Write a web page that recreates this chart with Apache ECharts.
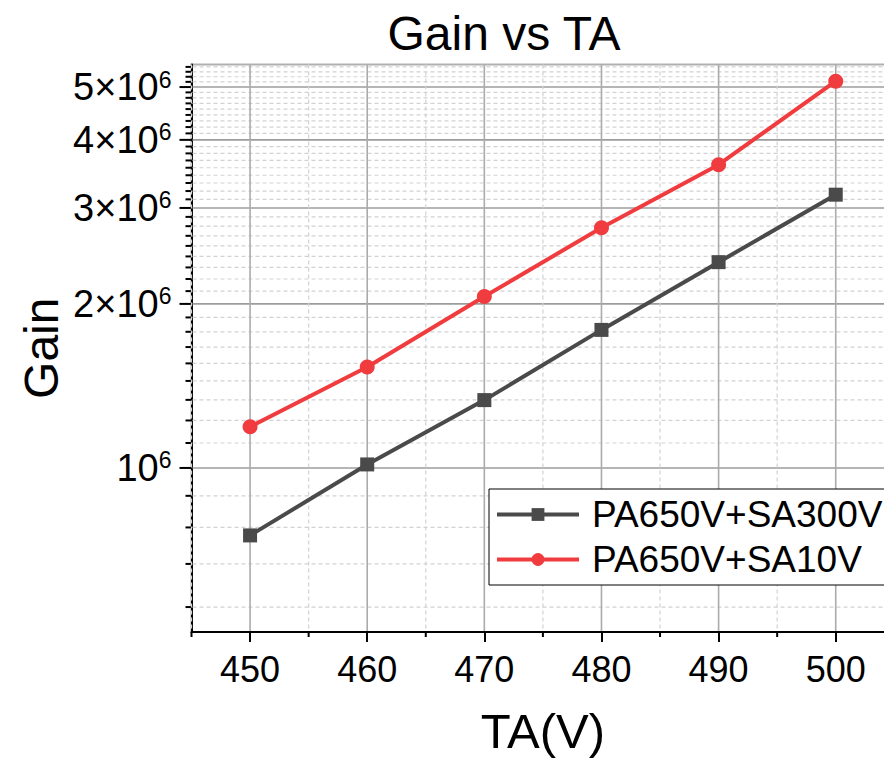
<!DOCTYPE html>
<html><head><meta charset="utf-8">
<script src="https://cdn.jsdelivr.net/npm/echarts@6/dist/echarts.min.js"></script>
<style>html,body{margin:0;padding:0;background:#fff}#c{width:884px;height:759px}</style>
</head><body><div id="c"></div>
<script>
// ---- data ----
const taVoltages = [450, 460, 470, 480, 490, 500];
const gainSA300 = [7.52e5, 1.015e6, 1.332e6, 1.792e6, 2.386e6, 3.173e6];
const gainSA10 = [1.190e6, 1.532e6, 2.063e6, 2.760e6, 3.602e6, 5.126e6];
const seriesNames = ['PA650V+SA300V', 'PA650V+SA10V'];
const titleText = 'Gain vs TA';
const xName = 'TA(V)';
const yName = 'Gain';
const xMajorTicks = [450, 460, 470, 480, 490, 500];
const xMinorTicks = [445, 455, 465, 475, 485, 495, 505];
const yMajorTicks = [1e6, 2e6, 3e6, 4e6, 5e6];
const yTickMantissas = ['', '2×', '3×', '4×', '5×'];
const yTickExponent = '6';

// ---- setup ----
const FONT = "'Liberation Sans', Arial, Helvetica, sans-serif";
const NARROW = "'Liberation Sans Narrow', 'Arial Narrow', " + FONT;
const xMin = 445, xMax = 505, yMin = 5e5, yMax = 5.5e6;
const COLORS = ['#4a4a4a', '#f03c3e'];
const LINE_W = 4;

// Origin style log axis: major step 1e6 with 8 minor ticks between majors
const yMinorTicks = [];
for (let k = 0; k <= 5; k++) {
  for (let j = 1; j <= 8; j++) {
    const v = k * 1e6 + j * 1e6 / 9;
    if (v > yMin && v < yMax) yMinorTicks.push(v);
  }
}
const yGridData = yMajorTicks.map((v, i) => [xMin, v, 1, i])
  .concat(yMinorTicks.map(v => [xMin, v, 0, -1]));
const xGridData = xMajorTicks.map(v => [v, yMin, 1])
  .concat(xMinorTicks.map(v => [v, yMin, 0]));

function renderYGrid(params, api) {
  const cs = params.coordSys;
  const y = api.coord([api.value(0), api.value(1)])[1];
  const major = api.value(2) === 1;
  const children = [
    { type: 'line', shape: { x1: cs.x + 1, y1: y, x2: cs.x + cs.width, y2: y },
      style: { stroke: major ? '#9c9c9c' : '#d2d2d2', lineWidth: major ? 1.6 : 1.2, lineDash: major ? null : [4, 3] } },
    { type: 'line', shape: { x1: cs.x - (major ? 12 : 6), y1: y, x2: cs.x, y2: y },
      style: { stroke: '#000', lineWidth: 2 } }
  ];
  if (major) {
    const idx = api.value(3);
    children.push({
      type: 'text',
      style: {
        x: cs.x - 20, y: y,
        text: '{m|' + yTickMantissas[idx] + '10}{s|' + yTickExponent + '}',
        align: 'right', verticalAlign: 'middle',
        textAlign: 'right', textVerticalAlign: 'middle',
        fill: '#000',
        rich: {
          m: { fontSize: 38, fontFamily: FONT, fill: '#000', color: '#000' },
          s: { fontSize: 23, fontFamily: FONT, fill: '#000', color: '#000', verticalAlign: 'top' }
        }
      }
    });
  }
  return { type: 'group', children };
}

function renderXGrid(params, api) {
  const cs = params.coordSys;
  const x = api.coord([api.value(0), api.value(1)])[0];
  const major = api.value(2) === 1;
  const children = [
    { type: 'line', shape: { x1: x, y1: cs.y, x2: x, y2: cs.y + cs.height - 1 },
      style: { stroke: major ? '#ababab' : '#d2d2d2', lineWidth: major ? 1.6 : 1.2, lineDash: major ? null : [4, 3] } }
  ];
  if (!major) {
    children.push({ type: 'line', shape: { x1: x, y1: cs.y + cs.height, x2: x, y2: cs.y + cs.height + 5 },
      style: { stroke: '#000', lineWidth: 2 } });
  }
  return { type: 'group', children };
}

const chart = echarts.init(document.getElementById('c'), null, { renderer: 'svg', width: 884, height: 759 });
chart.setOption({
  animation: false,
  backgroundColor: '#fff',
  title: {
    text: titleText, left: 504, top: 9, textAlign: 'center', padding: 0,
    textStyle: { fontSize: 48, fontWeight: 'normal', color: '#000', fontFamily: FONT }
  },
  grid: {
    left: 191.5, width: 702.8, top: 64.5, bottom: 127,
    containLabel: false, outerBoundsMode: 'none',
    show: true, borderColor: '#b0b0b0', borderWidth: 2, backgroundColor: 'transparent'
  },
  legend: {
    data: seriesNames, orient: 'vertical', left: 489, top: 489,
    itemWidth: 82, itemHeight: 16, itemGap: 8,
    padding: [7, 30, 7, 6],
    borderColor: '#000', borderWidth: 1, backgroundColor: '#fff',
    lineStyle: { width: LINE_W },
    textStyle: { fontSize: 37, color: '#000', fontFamily: FONT, padding: [0, 0, 0, 8] }
  },
  xAxis: {
    type: 'value', min: xMin, max: xMax,
    name: xName, nameLocation: 'middle', nameGap: 74,
    nameTextStyle: { fontSize: 49, color: '#000', fontFamily: FONT },
    axisLine: { show: true, onZero: false, lineStyle: { color: '#000', width: 2 } },
    axisTick: { show: true, customValues: xMajorTicks, length: 10, lineStyle: { color: '#000', width: 2 } },
    axisLabel: { show: true, customValues: xMajorTicks, margin: 19, fontSize: 36, color: '#000', fontFamily: NARROW },
    splitLine: { show: false }
  },
  yAxis: {
    type: 'log', logBase: 10, min: yMin, max: yMax,
    name: yName, nameLocation: 'middle', nameGap: 126,
    nameTextStyle: { fontSize: 48, color: '#000', fontFamily: FONT },
    axisLine: { show: true, onZero: false, lineStyle: { color: '#000', width: 2 } },
    axisTick: { show: false },
    axisLabel: { show: false },
    splitLine: { show: false },
    minorTick: { show: false },
    minorSplitLine: { show: false }
  },
  series: [
    { type: 'custom', name: 'ygrid', silent: true, z: 1, clip: false,
      renderItem: renderYGrid, data: yGridData, encode: { x: 0, y: 1 } },
    { type: 'custom', name: 'xgrid', silent: true, z: 1, clip: false,
      renderItem: renderXGrid, data: xGridData, encode: { x: 0, y: 1 } },
    { type: 'line', name: seriesNames[0], data: taVoltages.map((t, i) => [t, gainSA300[i]]),
      symbol: 'rect', symbolSize: 14, z: 3,
      lineStyle: { width: LINE_W, color: COLORS[0] }, itemStyle: { color: COLORS[0], borderWidth: 0 },
      emphasis: { disabled: true } },
    { type: 'line', name: seriesNames[1], data: taVoltages.map((t, i) => [t, gainSA10[i]]),
      symbol: 'circle', symbolSize: 15, z: 3,
      lineStyle: { width: LINE_W, color: COLORS[1] }, itemStyle: { color: COLORS[1], borderWidth: 0 },
      emphasis: { disabled: true } }
  ]
});
</script>
</body></html>
